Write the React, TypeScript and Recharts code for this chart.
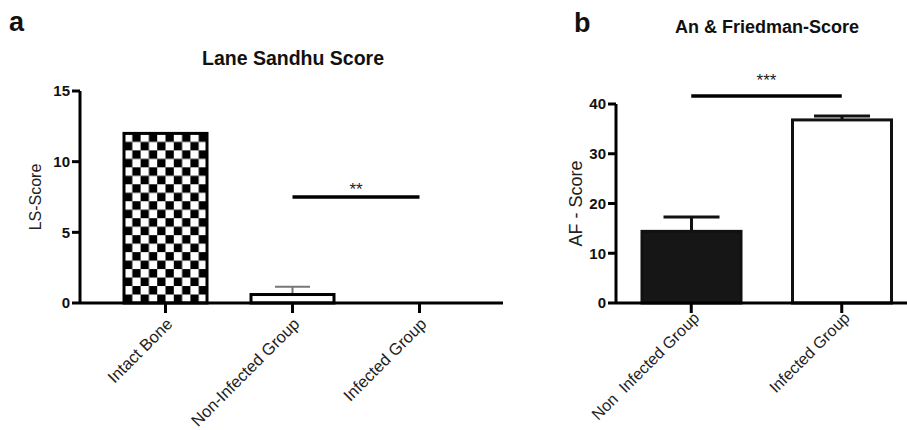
import React from 'react';
import { BarChart, Bar, XAxis, YAxis, Cell, ReferenceLine } from 'recharts';

// Panel a: Lane Sandhu score
const lsGroups = ['Intact Bone', 'Non-Infected Group', 'Infected Group'];
const lsMeans = [12, 0.6, 0];
const lsErrors = [0, 0.55, 0];
const lsTicks = [0, 5, 10, 15];
const lsSig = { from: 'Non-Infected Group', to: 'Infected Group', y: 7.5, label: '**' };

// Panel b: An & Friedman score
const afGroups = ['Non  Infected Group', 'Infected Group'];
const afMeans = [14.4, 36.8];
const afErrors = [2.9, 0.8];
const afTicks = [0, 10, 20, 30, 40];
const afSig = { from: 'Non  Infected Group', to: 'Infected Group', y: 41.6, label: '***' };

const FONT = '"Liberation Sans", Arial, sans-serif';

const lsData = lsGroups.map((name, i) => ({ name, value: lsMeans[i], err: lsErrors[i] }));
const afData = afGroups.map((name, i) => ({ name, value: afMeans[i], err: afErrors[i] }));

// bar with an upward-only error whisker, scaled from the bar's own geometry
const makeErrorBarShape = (capWidth: number, whiskerColor: string, whiskerWidth: number) =>
  (props: any) => {
    const { x, y, width, height, fill, stroke, payload } = props;
    if (!height || height <= 0) return null;
    const pxPerUnit = height / payload.value;
    const top = y - payload.err * pxPerUnit;
    const cx = x + width / 2;
    return (
      <g>
        {payload.err > 0 && (
          <g stroke={whiskerColor} strokeWidth={whiskerWidth}>
            <line x1={cx} x2={cx} y1={y} y2={top} />
            <line x1={cx - capWidth / 2} x2={cx + capWidth / 2} y1={top} y2={top} />
          </g>
        )}
        <rect x={x} y={y} width={width} height={height} fill={fill} stroke={stroke} strokeWidth={3} />
      </g>
    );
  };

const AngledTick = ({ x, y, payload, shiftX = 8, shiftY = 10, size = 16.5 }: any) => (
  <g transform={`translate(${x + shiftX},${y + shiftY})`}>
    <text
      textAnchor="end"
      transform="rotate(-45)"
      fontSize={size}
      fontFamily={FONT}
      fill="#222"
      style={{ whiteSpace: 'pre' }}
    >
      {payload.value}
    </text>
  </g>
);

const tickStyle = { fontSize: 15, fontWeight: 700, fontFamily: FONT, fill: '#111' };

function LaneSandhuChart() {
  return (
    <BarChart
      width={510}
      height={430}
      data={lsData}
      margin={{ top: 91, right: 7, bottom: 0, left: 0 }}
      barSize={83}
    >
      <defs>
        <pattern id="checker" patternUnits="objectBoundingBox" width={0.2} height={0.1}
          patternContentUnits="objectBoundingBox">
          <rect x={0} y={0} width={0.2} height={0.1} fill="#fff" />
          <rect x={0.1} y={0} width={0.1} height={0.05} fill="#000" />
          <rect x={0} y={0.05} width={0.1} height={0.05} fill="#000" />
        </pattern>
      </defs>
      <XAxis
        dataKey="name"
        height={127}
        axisLine={{ stroke: '#000', strokeWidth: 3 }}
        tickLine={{ stroke: '#000', strokeWidth: 3 }}
        tickSize={10}
        padding={{ left: 22, right: 20 }}
        interval={0}
        tick={<AngledTick shiftX={8} shiftY={10} size={16.5} />}
      />
      <YAxis
        width={80}
        domain={[0, 15]}
        ticks={lsTicks}
        axisLine={{ stroke: '#000', strokeWidth: 3 }}
        tickLine={{ stroke: '#000', strokeWidth: 3 }}
        tickSize={8}
        tick={tickStyle}
        label={{ value: 'LS-Score', angle: -90, position: 'center', dx: -5, fontSize: 16, fontFamily: FONT, fill: '#222' }}
      />
      <Bar dataKey="value" isAnimationActive={false} shape={makeErrorBarShape(35, '#777', 2)}>
        {lsData.map((d, i) => (
          <Cell key={d.name} fill={i === 0 ? 'url(#checker)' : '#fff'} stroke="#000" />
        ))}
      </Bar>
      <ReferenceLine
        segment={[{ x: lsSig.from, y: lsSig.y }, { x: lsSig.to, y: lsSig.y }]}
        stroke="#000"
        strokeWidth={3.5}
        ifOverflow="visible"
        label={{ value: lsSig.label, position: 'top', offset: 2, fontSize: 17, fontFamily: FONT, fill: '#222' }}
      />
    </BarChart>
  );
}

function FriedmanChart() {
  return (
    <BarChart
      width={377}
      height={430}
      data={afData}
      margin={{ top: 104, right: 0, bottom: 0, left: 0 }}
      barSize={99}
    >
      <XAxis
        dataKey="name"
        height={127}
        axisLine={{ stroke: '#000', strokeWidth: 3 }}
        tickLine={{ stroke: '#000', strokeWidth: 3 }}
        tickSize={10}
        interval={0}
        tick={<AngledTick shiftX={9} shiftY={4} size={16} />}
      />
      <YAxis
        width={76}
        domain={[0, 40]}
        ticks={afTicks}
        axisLine={{ stroke: '#000', strokeWidth: 3 }}
        tickLine={{ stroke: '#000', strokeWidth: 3 }}
        tickSize={8}
        tick={tickStyle}
        label={{ value: 'AF - Score', angle: -90, position: 'center', dx: -2, fontSize: 18, fontFamily: FONT, fill: '#222' }}
      />
      <Bar dataKey="value" isAnimationActive={false} shape={makeErrorBarShape(56, '#111', 3)}>
        {afData.map((d, i) => (
          <Cell key={d.name} fill={i === 0 ? '#161616' : '#fff'} stroke="#111" />
        ))}
      </Bar>
      <ReferenceLine
        segment={[{ x: afSig.from, y: afSig.y }, { x: afSig.to, y: afSig.y }]}
        stroke="#000"
        strokeWidth={3.5}
        ifOverflow="visible"
        label={{ value: afSig.label, position: 'top', offset: 10, fontSize: 17, fontFamily: FONT, fill: '#222' }}
      />
    </BarChart>
  );
}

const textBase: React.CSSProperties = {
  position: 'absolute',
  fontFamily: FONT,
  fontWeight: 700,
  color: '#111',
  whiteSpace: 'nowrap',
  lineHeight: 1,
};

export default function App() {
  return (
    <div style={{ position: 'absolute', left: 0, top: 0, width: 907, height: 430, overflow: 'hidden', background: '#fff' }}>
      <div style={{ position: 'absolute', left: 0, top: 0 }}>
        <LaneSandhuChart />
      </div>
      <div style={{ position: 'absolute', left: 540, top: 0 }}>
        <FriedmanChart />
      </div>
      <div style={{ ...textBase, left: 9, top: 9, fontSize: 27 }}>a</div>
      <div style={{ ...textBase, left: 574, top: 10, fontSize: 27 }}>b</div>
      <div style={{ ...textBase, left: 293, top: 59, fontSize: 19.5, transform: 'translate(-50%, -50%)' }}>
        Lane Sandhu Score
      </div>
      <div style={{ ...textBase, left: 767, top: 27, fontSize: 18, transform: 'translate(-50%, -50%)' }}>
        An &amp; Friedman-Score
      </div>
    </div>
  );
}
